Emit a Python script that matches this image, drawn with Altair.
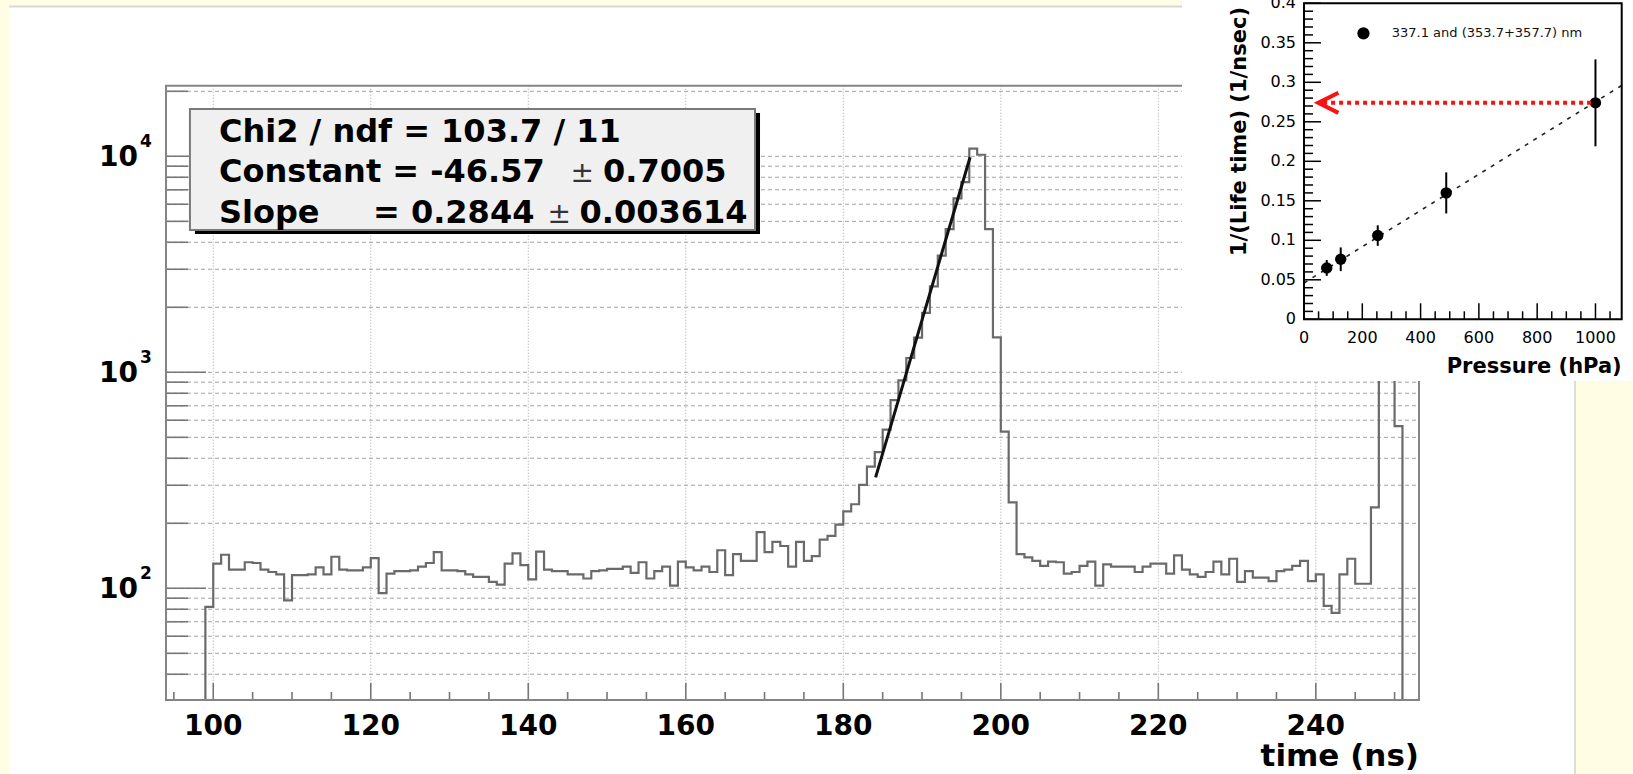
import math
import altair as alt
import pandas as pd

FONT = "DejaVu Sans"
W, H = 1633, 774

# ---------------- main panel: arrival-time histogram, 1 ns bins from 99 ns ----------------
first_bin = 99
counts = [
    82, 130, 143, 122, 122, 132, 131, 122, 119, 116,      # 99-108
    88, 115, 115, 116, 125, 116, 140, 122, 121, 121,      # 109-118
    125, 138, 95, 117, 120, 120, 121, 126, 131, 147,      # 119-128
    121, 121, 120, 116, 113, 113, 107, 104, 130, 145,     # 129-138
    128, 110, 148, 122, 120, 120, 116, 116, 111, 120,     # 139-148
    121, 123, 123, 126, 118, 132, 111, 120, 126, 103,     # 149-158
    133, 125, 121, 126, 119, 150, 115, 144, 134, 134,     # 159-168
    182, 147, 164, 157, 126, 164, 134, 141, 168, 175,     # 169-178
    197, 227, 245, 301, 366, 427, 543, 743, 917, 1165,    # 179-188
    1448, 1883, 2502, 3468, 4606, 6385, 7590, 10860, 10170, 4600,  # 189-198
    1450, 531, 250, 144, 139, 134, 127, 133, 132, 117,    # 199-208
    119, 127, 133, 103, 129, 126, 126, 126, 119, 126,     # 209-218
    130, 130, 117, 142, 122, 116, 113, 119, 133, 116,     # 219-228
    137, 107, 120, 112, 112, 108, 120, 122, 127, 134,     # 229-238
    108, 116, 83, 77, 116, 137, 105, 105, 237, 40000,     # 239-248
    40000, 563,                                           # 249-250
]
EMPTY = 1  # empty bins sit on the lower frame edge (scale is clamped)

# exponential fit of the rising edge
fit_chi2, fit_ndf = 103.7, 11
fit_constant, fit_constant_err = -46.57, 0.7005
fit_slope, fit_slope_err = 0.2844, 0.003614
fit_range = [184.1, 196.1]

time_major = [100, 120, 140, 160, 180, 200, 220, 240]
time_minor = [t for t in range(95, 251, 5) if t % 20 != 0]
count_decades = [100, 1000, 10000]
count_exponents = ["2", "3", "4"]
count_grid = [m * 10 ** k for k in (1, 2, 3, 4) for m in range(1, 10)
              if 30.4 < m * 10 ** k < 21230]

# stats box placement (data units)
box_t = [97.04, 168.79]
box_n = [4559, 16558]

# ---------------- inset: inverse lifetime vs pressure ----------------
pressure = [78, 126, 253, 488, 1000]
inv_life = [0.065, 0.076, 0.106, 0.160, 0.274]
inv_life_err = [0.010, 0.015, 0.013, 0.026, 0.055]
inset_fit_p = [0, 1090]
inset_fit_v = [0.046, 0.296]
arrow_p = [985, 58]
arrow_head_p = [118, 49, 118]
arrow_head_v = [0.2867, 0.274, 0.2613]
legend_label = "337.1 and (353.7+357.7) nm"
inset_y_major = [0, 0.05, 0.1, 0.15, 0.2, 0.25, 0.3, 0.35, 0.4]
inset_y_minor = [round(i * 0.01, 2) for i in range(1, 40) if i % 5 != 0]
inset_x_major = [0, 200, 400, 600, 800, 1000]
inset_x_minor = [p for p in range(50, 1090, 50) if p % 200 != 0]

# ---------------- layout (pixels on the page) ----------------
X0, X1, Y0, Y1 = 166, 1419, 85.7, 700          # main frame
IX0, IX1, IY0, IY1 = 1304, 1621.7, 3.3, 319.3  # inset frame

xs = alt.Scale(domain=[94, 253.1], range=[X0, X1], nice=False, zero=False, clamp=True)
ys = alt.Scale(type="log", domain=[30.4, 21230], range=[Y1, Y0], nice=False, clamp=True)
xi = alt.Scale(domain=[0, 1090], range=[IX0, IX1], nice=False, zero=False)
yi = alt.Scale(domain=[0, 0.4], range=[IY1, IY0], nice=False, zero=False)

one = pd.DataFrame({"k": [0]})


def panel(x0, x1, y0, y1, **kw):
    return alt.Chart(one).mark_rect(**kw).encode(
        x=alt.value(x0), x2=alt.value(x1), y=alt.value(y0), y2=alt.value(y1))


def seg(x0, x1, y0, y1, **kw):
    return alt.Chart(one).mark_rule(**kw).encode(
        x=alt.value(x0), x2=alt.value(x1), y=alt.value(y0), y2=alt.value(y1))


def label(text, x, y, **kw):
    return alt.Chart(pd.DataFrame({"s": [text]})).mark_text(**kw).encode(
        x=alt.value(x), y=alt.value(y), text="s:N")


TX = dict(axis=None)

# ---- main panel layers ----
hist_df = pd.DataFrame({
    "t": [first_bin] + [first_bin + i for i in range(len(counts))] + [first_bin + len(counts)],
    "n": [EMPTY] + counts + [EMPTY],
})
hist_df["i"] = range(len(hist_df))

fit_df = pd.DataFrame({"t": fit_range})
fit_df["n"] = [math.exp(fit_constant + fit_slope * t) for t in fit_range]

background = panel(9.3, 1575, 7, H, color="white")
top_edge = seg(9.3, W, 6.5, 6.5, color="#d8d8d8", strokeWidth=2)
right_edge = seg(1575, 1575, 381, H, color="#dcdcdc", strokeWidth=2)

hgrid = alt.Chart(pd.DataFrame({"n": count_grid})).mark_rule(
    color="#a3a3a3", strokeWidth=1, strokeDash=[4, 3]).encode(
    y=alt.Y("n:Q", scale=ys, **TX), x=alt.value(X0), x2=alt.value(X1))
vgrid = alt.Chart(pd.DataFrame({"t": time_major})).mark_rule(
    color="#a3a3a3", strokeWidth=1, strokeDash=[1, 2]).encode(
    x=alt.X("t:Q", scale=xs, **TX), y=alt.value(Y0), y2=alt.value(Y1))

xtick_major = alt.Chart(pd.DataFrame({"t": time_major})).mark_rule(
    color="#777777", strokeWidth=1.6).encode(
    x=alt.X("t:Q", scale=xs, **TX), y=alt.value(Y1), y2=alt.value(Y1 - 17))
xtick_minor = alt.Chart(pd.DataFrame({"t": time_minor})).mark_rule(
    color="#777777", strokeWidth=1.6).encode(
    x=alt.X("t:Q", scale=xs, **TX), y=alt.value(Y1), y2=alt.value(Y1 - 8))
ytick_major = alt.Chart(pd.DataFrame({"n": count_decades})).mark_rule(
    color="#777777", strokeWidth=1.6).encode(
    y=alt.Y("n:Q", scale=ys, **TX), x=alt.value(X0), x2=alt.value(X0 + 40))
ytick_minor = alt.Chart(pd.DataFrame({"n": [g for g in count_grid if g not in count_decades]})).mark_rule(
    color="#777777", strokeWidth=1.6).encode(
    y=alt.Y("n:Q", scale=ys, **TX), x=alt.value(X0), x2=alt.value(X0 + 22))

hist = alt.Chart(hist_df).mark_line(
    interpolate="step-after", color="#6a6a6a", strokeWidth=2.2).encode(
    x=alt.X("t:Q", scale=xs, **TX),
    y=alt.Y("n:Q", scale=ys, **TX),
    order=alt.Order("i:Q"),
)

fit_line = alt.Chart(fit_df).mark_line(color="#111111", strokeWidth=3).encode(
    x=alt.X("t:Q", scale=xs, **TX), y=alt.Y("n:Q", scale=ys, **TX))

frame = panel(X0, X1, Y0, Y1, fillOpacity=0, stroke="#858585", strokeWidth=2)

# time-axis tick labels and title
xlab_df = pd.DataFrame({"t": time_major, "s": [str(t) for t in time_major]})
x_labels = alt.Chart(xlab_df).mark_text(
    font=FONT, fontSize=28, fontWeight="bold", align="center", baseline="alphabetic",
    color="black").encode(x=alt.X("t:Q", scale=xs, **TX), y=alt.value(735), text="s:N")
x_title = label("time (ns)", X1, 766, font=FONT, fontSize=31, fontWeight="bold",
                align="right", baseline="alphabetic", color="black")

# fit statistics box
box_df = pd.DataFrame({"t": [box_t[0]], "t2": [box_t[1]], "n": [box_n[0]], "n2": [box_n[1]]})
box_enc = dict(x=alt.X("t:Q", scale=xs, **TX), x2="t2:Q",
               y=alt.Y("n:Q", scale=ys, **TX), y2="n2:Q")
box_shadow = alt.Chart(box_df).mark_rect(color="black", xOffset=5, yOffset=4,
                                         x2Offset=5, y2Offset=4).encode(**box_enc)
box = alt.Chart(box_df).mark_rect(fill="#f0f0f0", stroke="#7a7a7a", strokeWidth=2).encode(**box_enc)

stats_df = pd.DataFrame({
    "label": [f"Chi2 / ndf = {fit_chi2} / {fit_ndf}",
              f"Constant = {fit_constant}", f"{fit_constant_err}",
              "Slope", f"= {fit_slope}", f"{fit_slope_err}"],
    "t": [100.72, 100.72, 149.5, 100.72, 120.28, 146.5],
    "n": [11684, 7627, 7627, 4896, 4896, 4896],
})
stats_text = alt.Chart(stats_df).mark_text(
    font=FONT, fontSize=32, fontWeight="bold", align="left",
    baseline="alphabetic", color="black").encode(
    x=alt.X("t:Q", scale=xs, **TX), y=alt.Y("n:Q", scale=ys, **TX), text="label:N")
pm_df = pd.DataFrame({"label": ["\u00b1", "\u00b1"], "t": [145.37, 142.44], "n": [7627, 4896]})
pm_text = alt.Chart(pm_df).mark_text(
    font=FONT, fontSize=28, align="left", baseline="alphabetic", color="#333333").encode(
    x=alt.X("t:Q", scale=xs, **TX), y=alt.Y("n:Q", scale=ys, **TX), text="label:N")

dec_df = pd.DataFrame({"n": count_decades, "base": ["10"] * 3, "exp": count_exponents})
dec_base = alt.Chart(dec_df).mark_text(
    font=FONT, fontSize=28, fontWeight="bold", align="right", baseline="middle",
    dy=2, color="black").encode(
    x=alt.value(138), y=alt.Y("n:Q", scale=ys, **TX), text="base:N")
dec_exp = alt.Chart(dec_df).mark_text(
    font=FONT, fontSize=17, fontWeight="bold", align="left", baseline="middle",
    dy=-14, color="black").encode(
    x=alt.value(140), y=alt.Y("n:Q", scale=ys, **TX), text="exp:N")

main_layer = alt.layer(
    background, top_edge, right_edge, hgrid, vgrid, xtick_major, xtick_minor,
    ytick_major, ytick_minor, hist, fit_line, frame, box_shadow, box, stats_text,
    pm_text, dec_base, dec_exp, x_labels, x_title,
)

# ---- inset layers ----
inset_bg = panel(1182, W, 0, 381, color="white")

pts_df = pd.DataFrame({"p": pressure, "v": inv_life, "e": inv_life_err})
pts_df["lo"] = pts_df["v"] - pts_df["e"]
pts_df["hi"] = pts_df["v"] + pts_df["e"]

iy_major = alt.Chart(pd.DataFrame({"v": inset_y_major})).mark_rule(color="black", strokeWidth=1.5).encode(
    y=alt.Y("v:Q", scale=yi, **TX), x=alt.value(IX0), x2=alt.value(IX0 + 17))
iy_minor = alt.Chart(pd.DataFrame({"v": inset_y_minor})).mark_rule(color="black", strokeWidth=1.5).encode(
    y=alt.Y("v:Q", scale=yi, **TX), x=alt.value(IX0), x2=alt.value(IX0 + 9))
ix_major = alt.Chart(pd.DataFrame({"p": inset_x_major})).mark_rule(color="black", strokeWidth=1.5).encode(
    x=alt.X("p:Q", scale=xi, **TX), y=alt.value(IY1), y2=alt.value(IY1 - 16))
ix_minor = alt.Chart(pd.DataFrame({"p": inset_x_minor})).mark_rule(color="black", strokeWidth=1.5).encode(
    x=alt.X("p:Q", scale=xi, **TX), y=alt.value(IY1), y2=alt.value(IY1 - 8))

inset_frame = panel(IX0, IX1, IY0, IY1, fillOpacity=0, stroke="black", strokeWidth=2)

inset_fit = alt.Chart(pd.DataFrame({"p": inset_fit_p, "v": inset_fit_v})).mark_line(
    color="#222222", strokeWidth=1.6, strokeDash=[4, 6]).encode(
    x=alt.X("p:Q", scale=xi, **TX), y=alt.Y("v:Q", scale=yi, **TX))

err_bars = alt.Chart(pts_df).mark_rule(color="black", strokeWidth=2).encode(
    x=alt.X("p:Q", scale=xi, **TX), y=alt.Y("lo:Q", scale=yi, **TX), y2="hi:Q")

points = alt.Chart(pts_df).mark_point(filled=True, shape="circle", size=130, color="black", opacity=1).encode(
    x=alt.X("p:Q", scale=xi, **TX), y=alt.Y("v:Q", scale=yi, **TX))

ixlab_df = pd.DataFrame({"p": inset_x_major, "s": [str(p) for p in inset_x_major]})
ix_labels = alt.Chart(ixlab_df).mark_text(
    font=FONT, fontSize=16, align="center", baseline="alphabetic", color="black").encode(
    x=alt.X("p:Q", scale=xi, **TX), y=alt.value(343.3), text="s:N")
iylab_df = pd.DataFrame({"v": inset_y_major, "s": [f"{v:g}" for v in inset_y_major]})
iy_labels = alt.Chart(iylab_df).mark_text(
    font=FONT, fontSize=16, align="right", baseline="middle", color="black").encode(
    x=alt.value(IX0 - 8), y=alt.Y("v:Q", scale=yi, **TX), text="s:N")
ix_title = label("Pressure (hPa)", IX1, 373, font=FONT, fontSize=21, fontWeight="bold",
                 align="right", baseline="alphabetic", color="black")
iy_title = label("1/(Life time) (1/nsec)", 1246, 7, font=FONT, fontSize=21, fontWeight="bold",
                 align="right", baseline="alphabetic", angle=270, color="black")

arrow_line = alt.Chart(pd.DataFrame({"p": [arrow_p[0]], "p2": [arrow_p[1]], "v": [inv_life[-1]]})).mark_rule(
    color="#ff1010", strokeWidth=4, strokeDash=[4, 4]).encode(
    x=alt.X("p:Q", scale=xi, **TX), x2="p2:Q", y=alt.Y("v:Q", scale=yi, **TX))
arrow_head = alt.Chart(pd.DataFrame({"p": arrow_head_p, "v": arrow_head_v, "i": [0, 1, 2]})).mark_line(
    color="#ff1010", strokeWidth=4).encode(
    x=alt.X("p:Q", scale=xi, **TX), y=alt.Y("v:Q", scale=yi, **TX), order="i:Q")

legend_df = pd.DataFrame({"p": [204], "tp": [301], "v": [0.362], "label": [legend_label]})
legend_mark = alt.Chart(legend_df).mark_point(filled=True, shape="circle", size=150, color="black", opacity=1).encode(
    x=alt.X("p:Q", scale=xi, **TX), y=alt.Y("v:Q", scale=yi, **TX))
legend_text = alt.Chart(legend_df).mark_text(
    font=FONT, fontSize=13, align="left", baseline="middle", color="#111111").encode(
    x=alt.X("tp:Q", scale=xi, **TX), y=alt.Y("v:Q", scale=yi, **TX), text="label:N")

inset_layer = alt.layer(
    inset_bg, iy_major, iy_minor, ix_major, ix_minor, inset_fit, err_bars, points,
    arrow_line, arrow_head, legend_mark, legend_text, inset_frame,
    ix_labels, iy_labels, ix_title, iy_title,
)

chart = alt.layer(main_layer, inset_layer).resolve_scale(
    x="independent", y="independent"
).properties(
    width=W, height=H, padding=0,
    autosize=alt.AutoSizeParams(type="none"),
    background="#fffde4",
).configure_view(stroke=None)

chart.save("out.html", embed_options={"renderer": "svg", "actions": False})
